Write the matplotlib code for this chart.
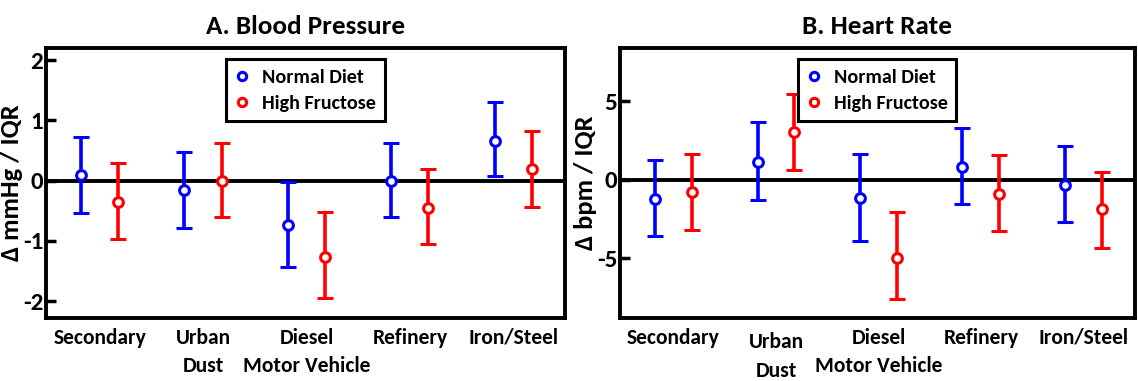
import matplotlib
matplotlib.use("Agg")
import matplotlib.pyplot as plt
import matplotlib.transforms as mtransforms
import numpy as np

plt.rcParams['font.family'] = ['Carlito', 'Asap Condensed', 'Liberation Sans', 'DejaVu Sans']
plt.rcParams['font.weight'] = 'bold'
plt.rcParams['axes.unicode_minus'] = False

categories = ["Secondary", "Urban\nDust", "Diesel\nMotor Vehicle", "Refinery", "Iron/Steel"]

# A. Blood pressure (mmHg / IQR)
bp_normal = [0.09, -0.15, -0.73, -0.01, 0.66]
bp_normal_lo = [-0.53, -0.79, -1.44, -0.61, 0.07]
bp_normal_hi = [0.72, 0.48, -0.03, 0.62, 1.30]
bp_fruct = [-0.36, 0.00, -1.27, -0.45, 0.19]
bp_fruct_lo = [-0.96, -0.61, -1.94, -1.05, -0.44]
bp_fruct_hi = [0.29, 0.63, -0.52, 0.20, 0.83]

# B. Heart rate (bpm / IQR)
hr_normal = [-1.23, 1.17, -1.17, 0.84, -0.33]
hr_normal_lo = [-3.60, -1.28, -3.91, -1.51, -2.66]
hr_normal_hi = [1.26, 3.68, 1.67, 3.31, 2.13]
hr_fruct = [-0.77, 3.03, -4.98, -0.88, -1.84]
hr_fruct_lo = [-3.18, 0.65, -7.55, -3.26, -4.33]
hr_fruct_hi = [1.67, 5.50, -2.07, 1.57, 0.52]

fig = plt.figure(figsize=(11.38, 3.81), dpi=100)
ax1 = fig.add_axes([0.0404, 0.165, 0.456, 0.709])
ax2 = fig.add_axes([0.545, 0.165, 0.452, 0.709])

x = np.arange(1, len(categories) + 1)
off = 0.18


def panel(ax, title, ylabel, n, nlo, nhi, f, flo, fhi, ylim, yticks, label_drop):
    ax.axhline(0, color='black', lw=2.8, zorder=1)
    for vals, lo, hi, color, dx, lab in [(n, nlo, nhi, 'blue', -off, 'Normal Diet'),
                                          (f, flo, fhi, 'red', off, 'High Fructose')]:
        vals = np.array(vals)
        err = [vals - np.array(lo), np.array(hi) - vals]
        ax.errorbar(x + dx, vals, yerr=err, fmt='o', color=color, ecolor=color,
                    elinewidth=2.6, capsize=6, capthick=2.6, markersize=7,
                    markerfacecolor='white', markeredgewidth=2.2, label=lab, zorder=3)
    ax.set_xlim(0.48, 5.5)
    ax.set_ylim(*ylim)
    ax.set_yticks(yticks)
    ax.set_xticks([])
    ax.tick_params(axis='y', direction='in', length=7, width=2.5, labelsize=18, pad=2)
    for lab in ax.get_yticklabels():
        lab.set_fontweight('bold')
    for s in ax.spines.values():
        s.set_linewidth(2.8)
    ax.set_title(title, fontsize=19.5, fontweight='bold', pad=10)
    ax.set_ylabel(ylabel, fontsize=19, fontweight='bold', labelpad=0)
    trans = mtransforms.blended_transform_factory(ax.transData, ax.transAxes)
    for i, cat in enumerate(categories):
        dy = label_drop if i == 1 else 0
        ax.text(x[i], -0.035 - dy, cat, transform=trans, ha='center', va='top',
                fontsize=15.5, fontweight='bold', linespacing=1.55)
    # legend with markers only (no error bars)
    h = [plt.Line2D([], [], ls='none', marker='o', color=c, markerfacecolor='white',
                    markeredgewidth=2.2, markersize=6) for c in ('blue', 'red')]
    leg = ax.legend(h, ['Normal Diet', 'High Fructose'], loc='upper center',
                    bbox_to_anchor=(0.5, 0.995), fontsize=14.5,
                    fancybox=False, framealpha=1, edgecolor='black',
                    handlelength=0.7, handletextpad=0.6, borderpad=0.45,
                    labelspacing=0.45)
    leg.get_frame().set_linewidth(2.2)


panel(ax1, "A. Blood Pressure", "\u0394 mmHg / IQR",
      bp_normal, bp_normal_lo, bp_normal_hi, bp_fruct, bp_fruct_lo, bp_fruct_hi,
      (-2.28, 2.2), [-2, -1, 0, 1, 2], 0.0)
panel(ax2, "B. Heart Rate", "\u0394 bpm / IQR",
      hr_normal, hr_normal_lo, hr_normal_hi, hr_fruct, hr_fruct_lo, hr_fruct_hi,
      (-8.8, 8.4), [-5, 0, 5], 0.018)

fig.savefig("out.png", dpi=100)
